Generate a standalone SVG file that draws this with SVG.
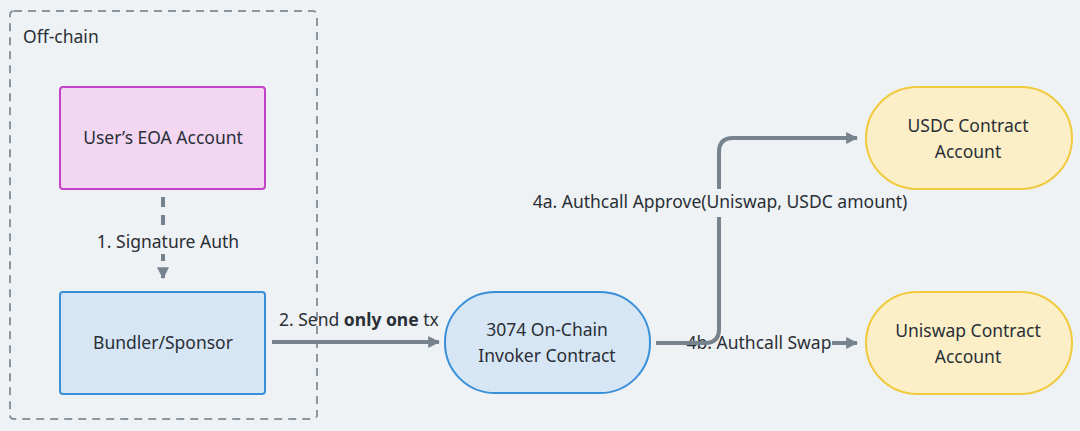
<svg xmlns="http://www.w3.org/2000/svg" width="1080" height="431" viewBox="0 0 1080 431">
<defs>
<style>
text{font-family:"Noto Sans","DejaVu Sans",sans-serif;font-size:17.5px;fill:#2a2f36}
.c{text-anchor:middle}
.edge{fill:none;stroke:#76838f;stroke-width:4}
.lbl{fill:#eef2f5}
</style>
<marker id="ah" viewBox="0 0 10 10" refX="9" refY="5" markerWidth="3" markerHeight="3" orient="auto" markerUnits="strokeWidth">
<path d="M0,0 L10,5 L0,10 z" fill="#76838f"/>
</marker>
</defs>
<rect width="1080" height="431" fill="#eef2f5"/>
<g id="offchain">
<rect x="10" y="11" width="307" height="408" rx="4" fill="none" stroke="#8c969e" stroke-width="2" stroke-dasharray="8,6"/>
<text x="23" y="43">Off-chain</text>
</g>
<g id="edges">
<path class="edge" d="M163,197 V278" stroke-dasharray="10,8" marker-end="url(#ah)"/>
<rect class="lbl" x="90" y="228" width="156" height="26"/>
<text class="c" x="168" y="248">1.  Signature Auth</text>
<path class="edge" d="M272,342 H439" marker-end="url(#ah)"/>
<text x="279" y="326">2.  Send <tspan font-weight="bold">only one</tspan> tx</text>
<path class="edge" d="M656,343 H857" marker-end="url(#ah)"/>
<rect class="lbl" x="690" y="331" width="142" height="24"/>
<text class="c" x="759" y="349">4b. Authcall Swap</text>
<path class="edge" d="M656,343 H705 Q719,343 719,329 V152 Q719,138 733,138 H857" marker-end="url(#ah)"/>
<rect class="lbl" x="530" y="189" width="380" height="28"/>
<text class="c" x="720" y="208">4a. Authcall Approve(Uniswap, USDC amount)</text>
</g>
<g id="eoa">
<rect x="60" y="87" width="205" height="102" rx="3" fill="#f2d6f2" stroke="#c442c8" stroke-width="2"/>
<text class="c" x="163" y="144">User’s EOA Account</text>
</g>
<g id="bundler">
<rect x="60" y="292" width="205" height="102" rx="3" fill="#d6e6f5" stroke="#3a90d8" stroke-width="2"/>
<text class="c" x="163" y="349">Bundler/Sponsor</text>
</g>
<g id="invoker">
<rect x="445" y="292" width="205" height="101" rx="50" fill="#d6e6f5" stroke="#3a90d8" stroke-width="2"/>
<text class="c" x="547" y="336">3074 On-Chain</text>
<text class="c" x="547" y="362">Invoker Contract</text>
</g>
<g id="usdc">
<rect x="866" y="87" width="206" height="102" rx="51" fill="#fcefc8" stroke="#f0c93c" stroke-width="2"/>
<text class="c" x="968" y="132">USDC Contract</text>
<text class="c" x="968" y="158">Account</text>
</g>
<g id="uniswap">
<rect x="866" y="292" width="206" height="102" rx="51" fill="#fcefc8" stroke="#f0c93c" stroke-width="2"/>
<text class="c" x="968" y="337">Uniswap Contract</text>
<text class="c" x="968" y="363">Account</text>
</g>
</svg>
